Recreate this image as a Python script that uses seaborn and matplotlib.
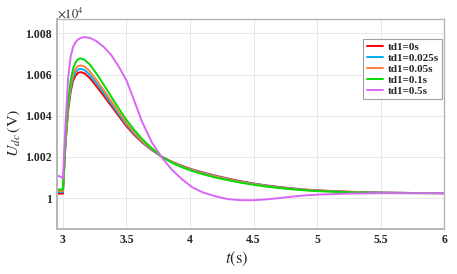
import numpy as np
import pandas as pd
import matplotlib
matplotlib.use("Agg")
import matplotlib.pyplot as plt
from matplotlib.ticker import FuncFormatter, MultipleLocator
import seaborn as sns

# time axis (s) and DC-link voltage (V) for each delay td1
t = [2.95, 3.0, 3.02, 3.04, 3.06, 3.08, 3.1, 3.12, 3.14, 3.17, 3.21, 3.26,
     3.32, 3.38, 3.44, 3.5, 3.56, 3.62, 3.7, 3.78, 3.86, 3.94, 4.02, 4.1,
     4.2, 4.3, 4.4, 4.5, 4.6, 4.7, 4.8, 4.9, 5.0, 5.25, 5.5, 5.75, 6.0]

u_0 = [10002.2, 10002.2, 10026, 10042, 10051.5, 10057, 10059.6, 10060.9,
       10061.2, 10060.6, 10058.4, 10054.6, 10049.8, 10044.8, 10039.8, 10034.9,
       10030.8, 10027.2, 10023.3, 10020.0, 10017.6, 10015.6, 10013.9, 10012.5,
       10010.9, 10009.5, 10008.2, 10007.1, 10006.2, 10005.4, 10004.8, 10004.2,
       10003.8, 10003.1, 10002.7, 10002.5, 10002.4]
u_0025 = [10003.0, 10003.0, 10027, 10043.3, 10053, 10058.6, 10061.2, 10062.5,
          10062.8, 10062.2, 10060.0, 10056.1, 10051.1, 10045.9, 10040.7,
          10035.7, 10031.4, 10027.6, 10023.5, 10020.0, 10017.5, 10015.4,
          10013.7, 10012.3, 10010.7, 10009.3, 10008.0, 10007.0, 10006.1,
          10005.3, 10004.7, 10004.1, 10003.7, 10003.0, 10002.7, 10002.5, 10002.4]
u_005 = [10003.5, 10003.5, 10028, 10044.6, 10054.5, 10060.3, 10063, 10064.2,
         10064.5, 10063.9, 10061.7, 10057.7, 10052.5, 10047.1, 10041.7,
         10036.5, 10032.0, 10028.0, 10023.8, 10020.0, 10017.4, 10015.2,
         10013.5, 10012.0, 10010.5, 10009.1, 10007.8, 10006.8, 10005.9,
         10005.1, 10004.5, 10004.0, 10003.6, 10002.9, 10002.6, 10002.5, 10002.4]
u_01 = [10004.2, 10004.2, 10030, 10047, 10057, 10063, 10066, 10067.5, 10067.9,
        10067.2, 10065.0, 10060.8, 10055.2, 10049.3, 10043.5, 10038.0, 10033.2,
        10028.9, 10024.2, 10020.0, 10017.1, 10014.9, 10013.1, 10011.6, 10010.0,
        10008.7, 10007.5, 10006.5, 10005.6, 10004.9, 10004.3, 10003.8, 10003.4,
        10002.8, 10002.5, 10002.4, 10002.4]
u_05 = [10011.2, 10009.8, 10036, 10058, 10068.5, 10073.5, 10075.8, 10077.1,
        10077.8, 10078.2, 10077.9, 10076.4, 10073.5, 10069.5, 10063.8, 10057.2,
        10047.5, 10037.5, 10027.0, 10019.6, 10013.6, 10009.0, 10005.2, 10002.8,
        10000.9, 9999.5, 9999.0, 9999.0, 9999.4, 10000.0, 10000.7, 10001.3,
        10001.7, 10002.2, 10002.4, 10002.4, 10002.4]

labels = ["td1=0s", "td1=0.025s", "td1=0.05s", "td1=0.1s", "td1=0.5s"]
colors = ["#ff0000", "#00b0f0", "#ff7f3f", "#00dd00", "#d966f5"]

df = pd.concat([pd.DataFrame({"t": t, "U": u, "case": lab})
                for u, lab in zip([u_0, u_0025, u_005, u_01, u_05], labels)],
               ignore_index=True)

sns.set_style("whitegrid")
plt.rcParams["font.family"] = ["Liberation Serif", "DejaVu Serif"]
plt.rcParams["mathtext.fontset"] = "stix"

fig = plt.figure(figsize=(4.57, 2.74), dpi=100)
ax = fig.add_axes([0.1247, 0.1642, 0.847, 0.7664])

sns.lineplot(data=df, x="t", y="U", hue="case", hue_order=labels,
             palette=colors, estimator=None, linewidth=1.4, ax=ax)

ax.set_xlim(2.953, 6.0)
ax.set_ylim(9985, 10087)
ax.xaxis.set_major_locator(MultipleLocator(0.5))
ax.yaxis.set_major_locator(MultipleLocator(20))
ax.xaxis.set_major_formatter(FuncFormatter(lambda v, p: f"{v:g}"))
ax.yaxis.set_major_formatter(FuncFormatter(lambda v, p: f"{v / 1e4:g}"))
for lab in ax.get_xticklabels() + ax.get_yticklabels():
    lab.set_fontweight("bold")
ax.tick_params(axis="both", labelsize=8.5, direction="in", length=3,
               color="#999999", pad=3.5)

ax.grid(True, color="#e8e8e8", linewidth=0.7)
for side, sp in ax.spines.items():
    sp.set_color("#b5b5b5")
    sp.set_linewidth(1.0 if side in ("top", "right") else 1.4)

ax.set_xlabel(r"$t\mathrm{(s)}$", fontsize=12)
ax.xaxis.set_label_coords(0.465, -0.1)
ax.set_ylabel(r"$U_{dc}\,\mathrm{(V)}$", fontsize=11.5)
ax.yaxis.set_label_coords(-0.088, 0.46)
ax.text(0.0, 1.028, r"$\times\mathrm{10}^{4}$", transform=ax.transAxes,
        ha="left", va="center", fontsize=9)

leg = ax.legend(loc="upper right", bbox_to_anchor=(0.995, 0.905),
                fontsize=8, frameon=True, fancybox=False, handlelength=1.5,
                labelspacing=0.1, borderpad=0.3, handletextpad=0.4,
                borderaxespad=0.0)
leg.get_frame().set_edgecolor("#888888")
leg.get_frame().set_linewidth(0.8)
for txt in leg.get_texts():
    txt.set_fontweight("bold")

fig.savefig("out.png", dpi=100)
